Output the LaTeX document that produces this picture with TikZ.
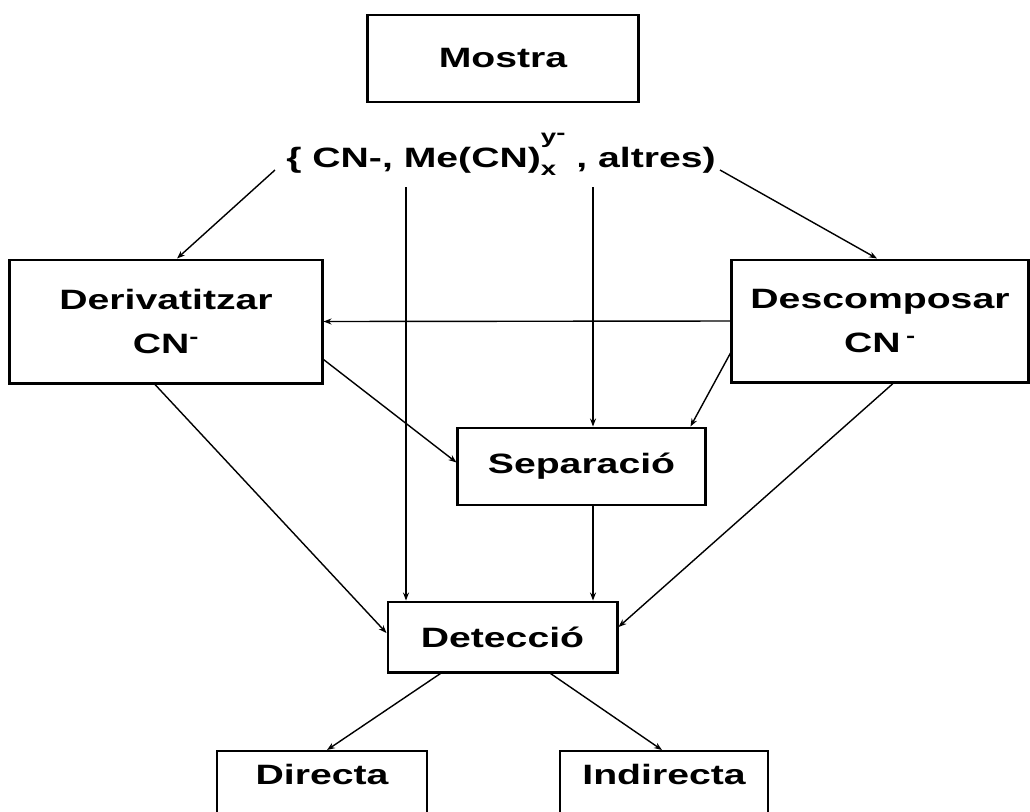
\documentclass[tikz,border=0pt]{standalone}
\usepackage{fontspec}
\newfontfamily\diagfont{Liberation Sans}[FakeStretch=1.4]
\usepackage{tikz}
\usetikzlibrary{arrows.meta,positioning}

% stacked sub/superscript for the species line
\newcommand{\subsupxy}[2]{{\fontsize{14}{14}\selectfont\makebox[0pt][l]{\raisebox{-0.2cm}{#1}}\raisebox{0.6cm}{#2}}}

\begin{document}
\begin{tikzpicture}[
    x=0.025cm, y=-0.025cm,
    box/.style={rectangle, draw=black, line width=2.1pt, inner sep=0pt, align=center,
        font=\diagfont\bfseries\fontsize{19.9}{31.9}\selectfont},
    thinbox/.style={rectangle, draw=black, line width=1.4pt, inner xsep=0pt, inner ysep=0pt, anchor=north,
        text height=0.825cm, text depth=1.5cm, font=\diagfont\bfseries\fontsize{19.9}{31.9}\selectfont},
    conn/.style={-{Stealth[length=0.2cm, width=0.15cm]}, line width=1pt}
]

% Frame
\clip (0,0) rectangle (1030,811);

% Sample
\node[box, minimum width=6.75cm, minimum height=2.175cm] (mostra) at (503,58.5) {Mostra};
\node[anchor=base, inner sep=0pt, font=\diagfont\bfseries\fontsize{19.9}{31.9}\selectfont] (species) at (501,167)
    {\{ CN-, Me(CN)\subsupxy{x}{y\raisebox{0.08cm}{-}} , altres)};

% Treatment boxes
\node[box, minimum width=7.8cm, minimum height=3.075cm] (deriv) at (166,321.5) {Derivatitzar\\CN\textsuperscript{-}};
\node[box, minimum width=7.4cm, minimum height=3.05cm] (descomp) at (880,321) {Descomposar\\CN\hspace{0.2em}\textsuperscript{-}};
\node[box, minimum width=6.175cm, minimum height=1.925cm] (separ) at (581.5,466.5) {Separació};
\node[box, minimum width=5.725cm, minimum height=1.75cm] (detec) at (502.5,637) {Detecció};

% Detection modes (cut at the bottom)
\node[thinbox, minimum width=5.25cm] (directa) at (322,750) {Directa};
\node[thinbox, minimum width=5.2cm] (indirecta) at (664,750) {Indirecta};

% Free ends under the species line
\coordinate (sl) at (275,170);
\coordinate (sr) at (720,170);
\coordinate (vl) at (406,187);
\coordinate (vr) at (593,187);

% Connectors
\draw[conn] (sl) -- ([xshift=0.275cm]deriv.north);
\draw[conn] (sr) -- ([xshift=-0.075cm]descomp.north);
\draw[conn] (vl) -- (vl |- detec.north);
\draw[conn] (vr) -- (vr |- separ.north);
\draw[conn] (descomp.west) -- (deriv.east);
\draw[conn] ([yshift=-0.95cm]deriv.east) -- ([yshift=0.1cm]separ.west);
\draw[conn] ([yshift=-0.8cm]descomp.west) -- ([xshift=-0.4cm]separ.north east);
\draw[conn] ([xshift=-0.275cm]deriv.south) -- ([yshift=0.1cm]detec.west);
\draw[conn] (vr |- separ.south) -- (vr |- detec.north);
\draw[conn] ([xshift=0.325cm]descomp.south) -- ([yshift=0.25cm]detec.east);
\draw[conn] ([xshift=-1.55cm]detec.south) -- ([xshift=0.125cm]directa.north);
\draw[conn] ([xshift=1.2cm]detec.south) -- ([xshift=-0.05cm]indirecta.north);

\end{tikzpicture}
\end{document}
